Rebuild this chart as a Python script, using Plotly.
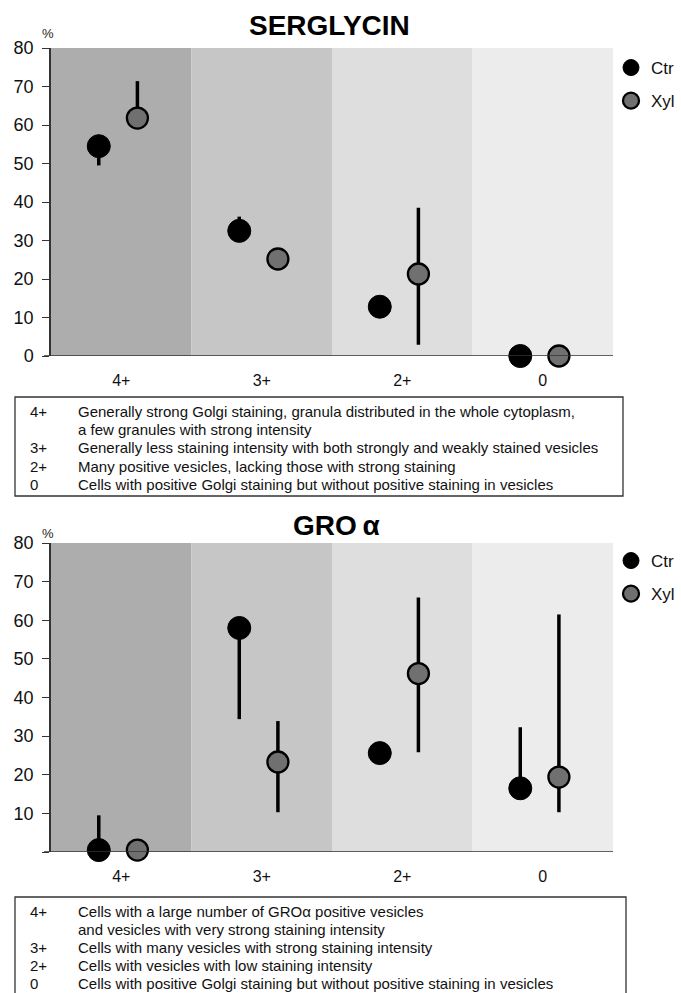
import plotly.graph_objects as go

# ---------------- data ----------------
categories = ["4+", "3+", "2+", "0"]

serg_ctr = [54.5, 32.5, 12.8, 0.0]
serg_ctr_plus = [0.0, 3.7, 0.0, 0.0]
serg_ctr_minus = [5.0, 0.0, 0.0, 0.0]
serg_xyl = [61.8, 25.2, 21.3, 0.0]
serg_xyl_plus = [9.6, 0.0, 17.2, 0.0]
serg_xyl_minus = [0.0, 0.0, 18.4, 0.0]

gro_ctr = [0.5, 58.0, 25.6, 16.5]
gro_ctr_plus = [9.0, 0.0, 0.0, 15.8]
gro_ctr_minus = [0.0, 23.6, 0.0, 0.0]
gro_xyl = [0.5, 23.3, 46.2, 19.4]
gro_xyl_plus = [0.0, 10.6, 19.7, 42.1]
gro_xyl_minus = [0.0, 13.0, 20.4, 9.1]

serg_tickvals = [0, 10, 20, 30, 40, 50, 60, 70, 80]
serg_ticktext = ["0", "10", "20", "30", "40", "50", "60", "70", "80"]
gro_tickvals = [0, 10, 20, 30, 40, 50, 60, 70, 80]
gro_ticktext = ["", "10", "20", "30", "40", "50", "60", "70", "80"]

serg_desc_codes = ["4+", "", "3+", "2+", "0"]
serg_desc_text = [
    "Generally strong Golgi staining, granula distributed in the whole cytoplasm,",
    "a few granules with strong intensity",
    "Generally less staining intensity with both strongly and weakly stained vesicles",
    "Many positive vesicles, lacking those with strong staining",
    "Cells with positive Golgi staining but without positive staining in vesicles",
]
gro_desc_codes = ["4+", "", "3+", "2+", "0"]
gro_desc_text = [
    "Cells with a large number of GROα positive vesicles",
    "and vesicles with very strong staining intensity",
    "Cells with many vesicles with strong staining intensity",
    "Cells with vesicles with low staining intensity",
    "Cells with positive Golgi staining but without positive staining in vesicles",
]

band_colors = ["#adadad", "#c6c6c6", "#dedede", "#ececec"]

# ---------------- layout helpers ----------------
W, H = 681, 993
FONT = "Liberation Sans, Arial, sans-serif"


def px(x):
    return x / W


def py(y):
    return 1 - y / H


idx = list(range(len(categories)))
ctr_x = [i - 0.16 for i in idx]
xyl_x = [i + 0.115 for i in idx]

fig = go.Figure()


def add_panel(ctr, cp, cm, xyl, xp, xm, xaxis, yaxis, legend):
    fig.add_trace(go.Scatter(
        x=ctr_x, y=ctr, mode="markers", name="Ctr",
        xaxis=xaxis, yaxis=yaxis, legend=legend, legendgroup=legend + "c",
        marker=dict(size=23, color="black", line=dict(color="black", width=1)),
        error_y=dict(type="data", symmetric=False, array=cp, arrayminus=cm,
                     width=0, thickness=3.5, color="black"),
        cliponaxis=False,
    ))
    fig.add_trace(go.Scatter(
        x=xyl_x, y=xyl, mode="markers", name="Xyl",
        xaxis=xaxis, yaxis=yaxis, legend=legend, legendgroup=legend + "x",
        marker=dict(size=21, color="#707070", line=dict(color="black", width=2.3)),
        error_y=dict(type="data", symmetric=False, array=xp, arrayminus=xm,
                     width=0, thickness=3.5, color="black"),
        cliponaxis=False,
    ))


add_panel(serg_ctr, serg_ctr_plus, serg_ctr_minus, serg_xyl, serg_xyl_plus,
          serg_xyl_minus, "x", "y", "legend")
add_panel(gro_ctr, gro_ctr_plus, gro_ctr_minus, gro_xyl, gro_xyl_plus,
          gro_xyl_minus, "x2", "y2", "legend2")

shapes = []
for i, c in enumerate(band_colors):
    for xr, yr in (("x", "y domain"), ("x2", "y2 domain")):
        shapes.append(dict(type="rect", xref=xr, yref=yr, x0=i - 0.5, x1=i + 0.5,
                           y0=0, y1=1, fillcolor=c, line=dict(width=0),
                           layer="below"))

# description boxes
shapes.append(dict(type="rect", xref="paper", yref="paper",
                   x0=px(15), x1=px(623), y0=py(496), y1=py(397),
                   line=dict(color="#333333", width=1.3)))
shapes.append(dict(type="rect", xref="paper", yref="paper",
                   x0=px(15), x1=px(626), y0=py(996), y1=py(897),
                   line=dict(color="#333333", width=1.3)))

annotations = []
annotations.append(dict(text="<b>SERGLYCIN</b>", x=px(329), y=py(26), xref="paper",
                        yref="paper", xanchor="center", yanchor="middle", showarrow=False,
                        font=dict(size=28, family=FONT, color="black")))
annotations.append(dict(text="<b>GRO\u2009α</b>", x=px(336), y=py(525), xref="paper",
                        yref="paper", xanchor="center", yanchor="middle", showarrow=False,
                        font=dict(size=28, family=FONT, color="black")))
for yy in (33, 533):
    annotations.append(dict(text="%", x=px(48), y=py(yy), xref="paper", yref="paper",
                            xanchor="center", yanchor="middle", showarrow=False,
                            font=dict(size=13, family=FONT, color="#222")))

serg_line_y = [411, 429, 448, 466, 484]
gro_line_y = [911, 929, 947, 965, 983]
for codes, texts, ys in ((serg_desc_codes, serg_desc_text, serg_line_y),
                         (gro_desc_codes, gro_desc_text, gro_line_y)):
    for code, t, yy in zip(codes, texts, ys):
        if code:
            annotations.append(dict(text=code, x=px(28), y=py(yy), xref="paper", yref="paper",
                                    xanchor="left", yanchor="middle", showarrow=False,
                                    font=dict(size=15, family=FONT, color="#111")))
        annotations.append(dict(text=t, x=px(76), y=py(yy), xref="paper", yref="paper",
                                xanchor="left", yanchor="middle", showarrow=False,
                                font=dict(size=15, family=FONT, color="#111")))

xcommon = dict(range=[-0.5, 3.5], tickvals=idx, ticktext=categories, showgrid=False,
               zeroline=False, showline=False, ticks="outside", ticklen=10,
               tickcolor="rgba(0,0,0,0)", tickfont=dict(size=16, family=FONT, color="#111"),
               domain=[px(51), px(613)], fixedrange=True, automargin=False)
ycommon = dict(range=[0, 80], showgrid=False, zeroline=False, showline=True,
               linecolor="#333333", linewidth=1.5, ticks="outside", ticklen=7,
               tickcolor="#333333", tickwidth=1.3, automargin=False,
               ticklabelstandoff=5,
               tickfont=dict(size=18, family=FONT, color="#111"), fixedrange=True)

legend_common = dict(xanchor="left", yanchor="top",
                     font=dict(size=17, family=FONT, color="#111"), bgcolor="rgba(0,0,0,0)",
                     traceorder="grouped", tracegroupgap=8, itemwidth=30)

fig.update_layout(
    width=W, height=H,
    margin=dict(l=0, r=0, t=0, b=0, autoexpand=False),
    paper_bgcolor="white", plot_bgcolor="white",
    showlegend=True,
    xaxis=dict(**xcommon, anchor="y"),
    yaxis=dict(**ycommon, domain=[py(356), py(48)], anchor="x",
               tickvals=serg_tickvals, ticktext=serg_ticktext),
    xaxis2=dict(**xcommon, anchor="y2"),
    yaxis2=dict(**ycommon, domain=[py(852), py(543)], anchor="x2",
                tickvals=gro_tickvals, ticktext=gro_ticktext),
    legend=dict(x=px(611), y=py(50), **legend_common),
    legend2=dict(x=px(611), y=py(543), **legend_common),
    shapes=shapes,
    annotations=annotations,
)

# x-axis baselines drawn on top of bands
for yr in ("y", "y2"):
    fig.add_shape(type="line", xref="paper", yref=yr, x0=px(44), x1=px(613), y0=0, y1=0,
                  line=dict(color="#333333", width=1.5), layer="above")

fig.write_html("out.html", config={"displayModeBar": False},
               post_script="document.body.style.margin='0';document.body.style.overflow='hidden';")
